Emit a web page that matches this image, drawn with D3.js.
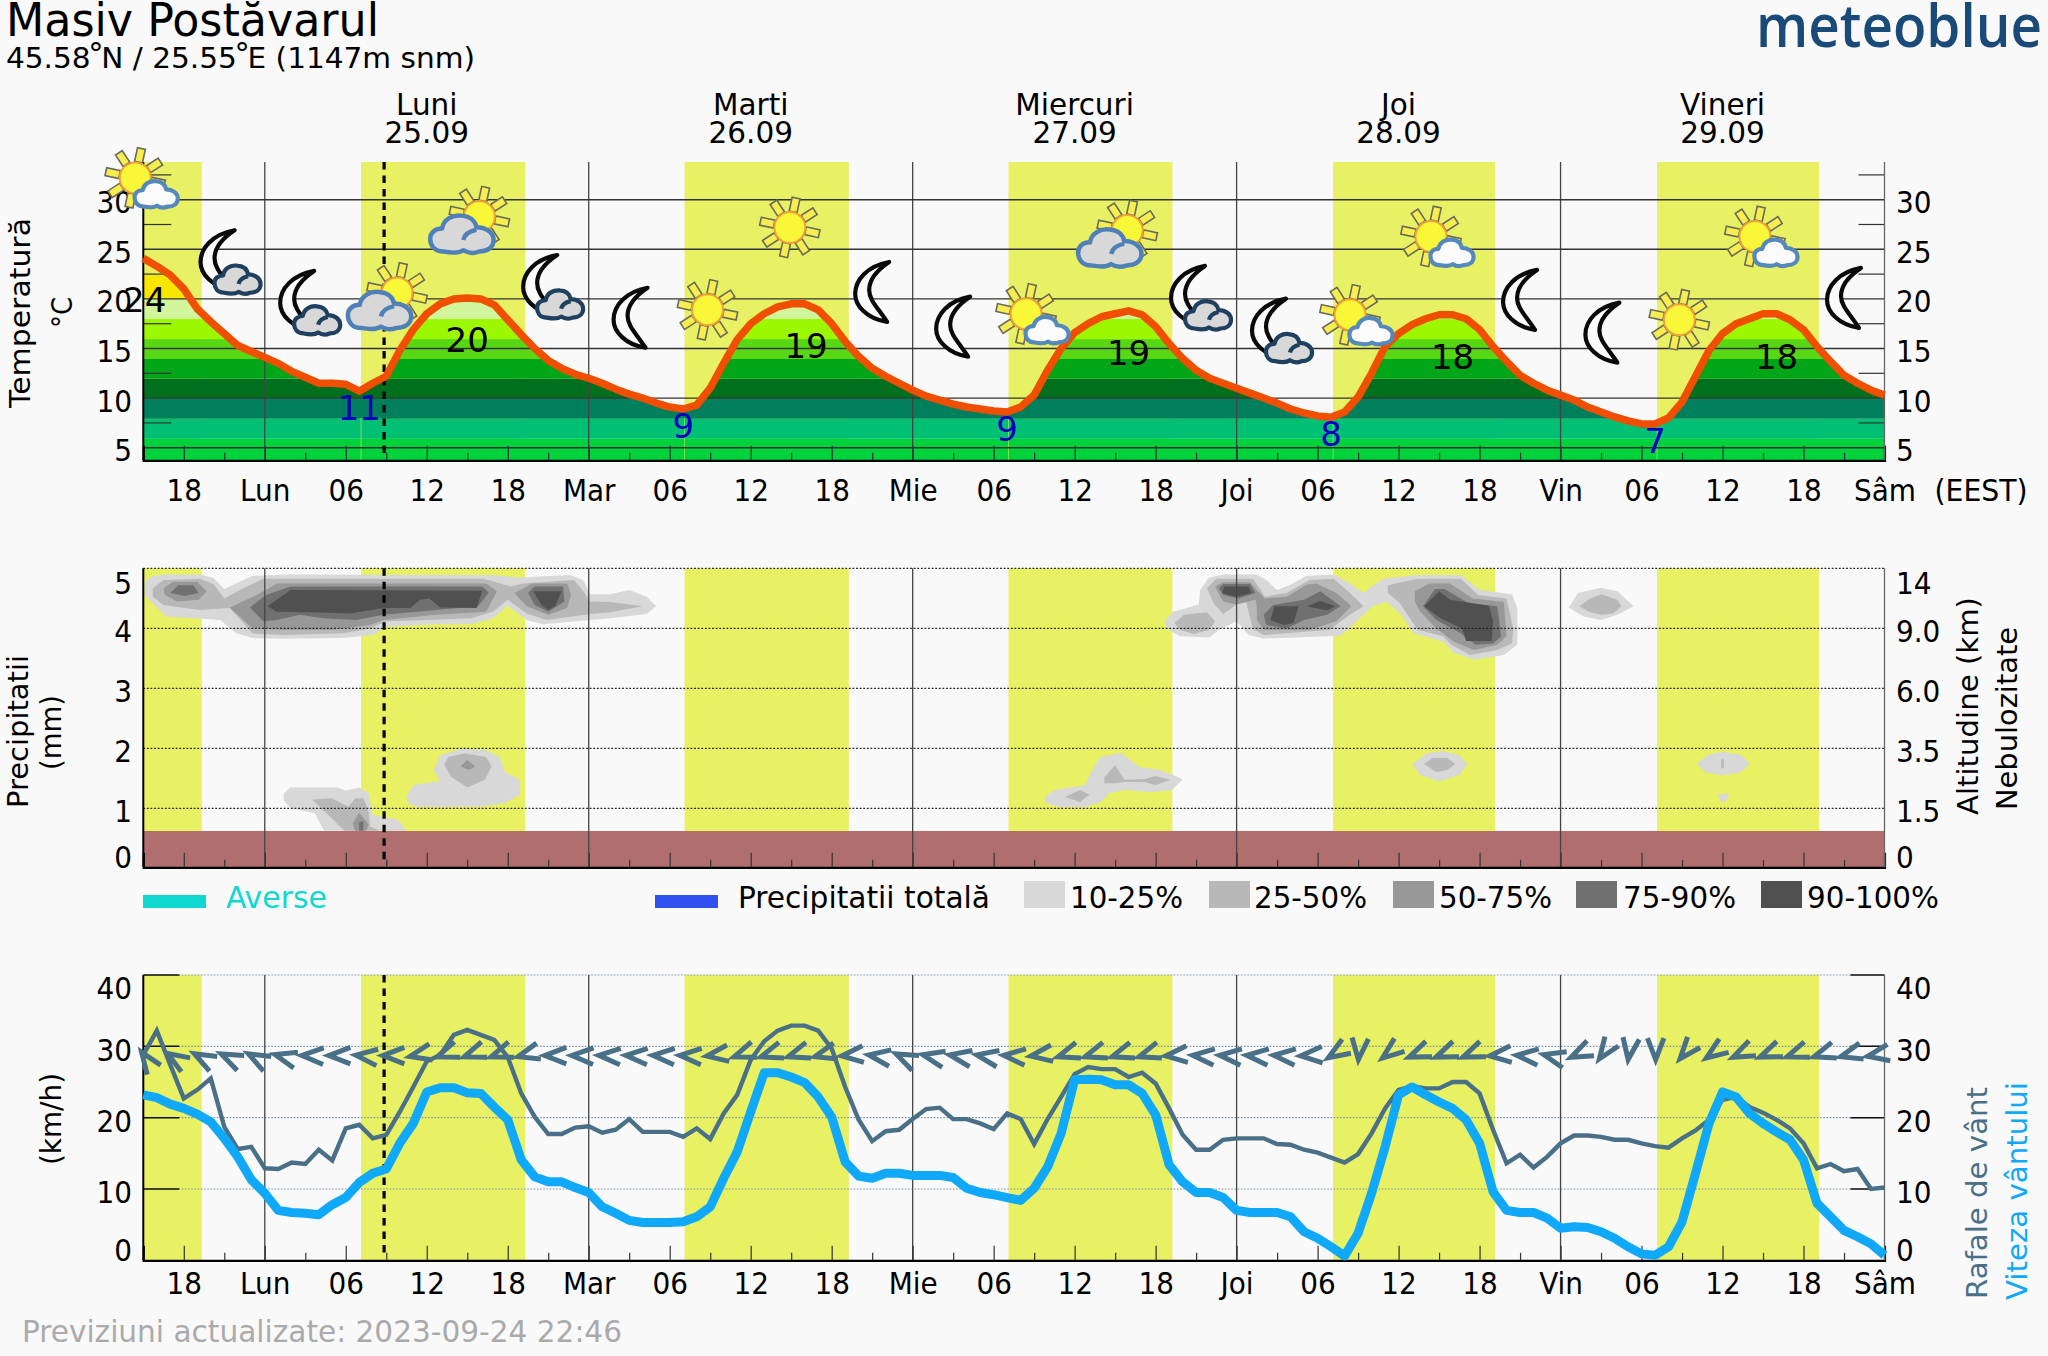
<!DOCTYPE html>
<html><head><meta charset="utf-8">
<script src="https://cdn.jsdelivr.net/npm/d3@7"></script>
<style>html,body{margin:0;padding:0;background:#f9f9f9}svg{display:block}text{font-family:"DejaVu Sans",sans-serif}.cond,.cond text{font-family:"DejaVu Sans Condensed","DejaVu Sans",sans-serif;font-stretch:condensed}</style>
</head><body><svg id="c" width="2048" height="1356"></svg>
<script>
const temperature=[24.1,23.3,22.4,21,19,17.7,16.5,15.3,14.7,14.1,13.5,12.7,12.1,11.5,11.5,11.4,10.7,11.5,12.2,14.8,16.9,18.5,19.5,20,20.1,20,19.4,17.9,16.4,15,13.8,13,12.4,12,11.5,10.9,10.4,10,9.5,9.1,8.9,9.3,11,13.5,15.9,17.5,18.5,19.2,19.5,19.5,18.9,17.5,15.7,14.2,13,12.2,11.5,10.8,10.2,9.8,9.4,9.1,8.9,8.7,8.6,9.1,10.3,12.8,15,16.6,17.5,18.2,18.5,18.8,18.4,17.2,15.5,14,12.8,12,11.5,11,10.5,10,9.5,8.9,8.5,8.2,8.06,8.6,10.1,12.5,15.2,16.5,17.4,18,18.4,18.4,18,16.9,15.2,13.7,12.3,11.5,10.8,10.3,9.8,9.1,8.6,8.1,7.7,7.4,7.4,8,9.6,12.2,14.8,16.5,17.5,18,18.5,18.5,17.9,16.9,15.2,13.7,12.3,11.5,10.8,10.3];
const gusts=[28.8,32.2,27.4,22.7,23.9,25.5,18.7,15.6,15.9,12.9,12.8,13.7,13.5,15.5,14,18.5,19,17.1,17.6,20.8,24.3,27.9,28.8,31.6,32.3,31.6,30.9,28.5,23.4,20.1,17.7,17.7,18.6,18.8,17.9,18.3,19.8,18,18,18,17.3,18.5,17,20.6,23.2,28.1,30.7,32.2,32.9,32.9,32.2,29.7,24.3,19.7,16.7,18.1,18.3,19.8,21.2,21.4,19.8,19.8,19.2,18.4,20.6,19.8,16.3,19.8,22.9,26.1,27.1,26.8,26.8,25.7,26.3,24.8,21.3,17.6,15.5,15.5,16.9,17.1,17.1,17.1,16.3,16.2,15.5,15.1,14.4,13.7,14.9,17.8,21.3,23.9,24.4,24.1,24.1,25,25,23.4,18.3,13.6,14.8,13,14.5,16.4,17.5,17.5,17.3,16.9,16.9,16.4,16,15.8,17.1,18.2,19.7,22.5,22.9,21.5,20.7,19.7,18.5,16.4,12.9,13.5,12.5,12.8,10,10.2];
const windSpeed=[23.2,22.8,21.9,21.3,20.5,19.4,17.1,14.5,11.3,9.4,7,6.7,6.6,6.4,7.8,8.8,10.9,12.2,12.8,16.4,19.2,23.6,24.2,24.2,23.5,23.4,21.5,19.7,14.1,11.7,11,11,10.2,9.5,7.5,6.6,5.6,5.3,5.3,5.3,5.4,6.1,7.5,11.5,15.2,20.8,26.3,26.3,25.7,24.9,22.9,20.1,13.8,11.8,11.5,12.2,12.2,11.9,11.9,11.9,11.6,10.1,9.5,9.2,8.8,8.4,10.1,13.1,17.8,25.3,25.4,25.3,24.6,24.6,23.4,20.4,13.4,11,9.5,9.5,8.8,7,6.7,6.7,6.7,6.1,4,3.1,1.9,0.6,3.8,9.4,15.9,23.2,24.3,23.2,22.2,21.3,19.7,16.4,9.6,7,6.7,6.7,5.9,4.5,4.7,4.6,4,3.1,1.9,0.9,0.7,1.9,5.4,12.2,19.2,23.6,22.9,20.6,19.2,18,16.9,14.1,8,6.1,4.2,3.3,2.3,0.7];
const windRotation=[55,32,28,25,28,15,2,0,6,0,-12,-20,-20,-20,-15,0,2,3,3,3,3,-8,-20,-18,-18,-15,-5,8,25,12,10,10,5,-8,-18,-18,-18,-18,-5,5,5,5,5,-3,-32,-85,-38,-22,-22,-22,-5,5,14,-25,-55,-82,-90,-50,-35,-25,-22,-20,-18,-15,-10];
const daySpans=[[0,4.33],[16.13,28.3],[40.1,52.27],[64.1,76.24],[88.15,100.15],[112.15,124.15]];
const dayLines=[9,33,57,81,105];
const nowHour=17.84;
const dayNames=["Luni","Marti","Miercuri","Joi","Vineri"];
const dayDates=["25.09","26.09","27.09","28.09","29.09"];
const dayHours=[21,45,69,93,117];
const axisLabels=["18","Lun","06","12","18","Mar","06","12","18","Mie","06","12","18","Joi","06","12","18","Vin","06","12","18","Sâm"];
const tempTicks=[30,25,20,15,10,5];
const tempMinor=[32.5,27.5,22.5,17.5,12.5,7.5];
const precipTicks=[0,1,2,3,4,5];
const altitudeTicks=["0","1.5","3.5","6.0","9.0","14"];
const windTicks=[0,10,20,30,40];
const tempBands=[[3,5.9,"#00d23c"],[5.9,7.92,"#00c074"],[7.92,9.97,"#007f5c"],[9.97,11.96,"#00701e"],[11.96,13.94,"#00a518"],[13.94,15.95,"#58d814"],[15.95,17.97,"#9cf800"],[17.97,20,"#d0f59a"],[20,22.4,"#f8e600"],[22.4,34,"#e8ee60"]];
const maxLabels=[[0.1,24.1,"24"],[24,20.1,"20"],[49.1,19.5,"19"],[73,18.8,"19"],[97,18.4,"18"],[121,18.4,"18"]];
const minLabels=[[16,10.7,"11"],[40,8.9,"9"],[64,8.6,"9"],[88,8.06,"8"],[112,7.4,"7"]];
const icons=[["sunSmall",-0.6,32.2],["moonCloud",5.5,23.9],["moonCloud",11.4,19.8],["sunBig",18.8,20.6],["sunBig",24.9,28.3],["moonCloud",29.4,21.4],["moon",36.1,18.1],["sun",41.8,18.9],["sun",47.9,27.2],["moon",54,20.7],["moon",60,17.2],["sunSmall",65.4,18.5],["sunBig",72.9,26.9],["moonCloud",77.4,20.3],["moonCloud",83.4,17],["sunSmall",89.4,18.4],["sunSmall",95.4,26.3],["moon",102,19.9],["moon",108.1,16.6],["sun",113.8,17.9],["sunSmall",119.4,26.3],["moon",126,20.1]];
const cloudColors=["#d8d8d8","#b8b8b8","#989898","#707070","#505050"];
const cloudLabels=["10-25%","25-50%","50-75%","75-90%","90-100%"];
// cloud contours: [level, [[hour, axis position], ...]]
const cloudsA=[
[0,[[0.1,4.76],[0.6,4.85],[1.5,4.88],[4.2,4.88],[5.2,4.82],[6,4.64],[8.1,4.86],[10.6,4.88],[25.9,4.87],[27.9,4.83],[31.6,4.87],[32.6,4.79],[33.1,4.55],[34.6,4.55],[36,4.62],[37.3,4.51],[38,4.35],[37.3,4.22],[34.6,4.15],[33.1,4.12],[29.6,4.05],[28.4,4.12],[27,4.36],[25.9,4.15],[24.3,4.05],[21.7,4.05],[18,4.01],[17,3.87],[14.8,3.82],[10.4,3.81],[8.1,3.82],[6.9,3.9],[5.7,4.12],[3.7,4.15],[1.7,4.18],[0.9,4.35],[0.1,4.54]]],
[1,[[.7,4.65],[1.5,4.79],[4.2,4.81],[5.2,4.72],[6,4.48],[7.4,4.65],[8.9,4.81],[25.2,4.81],[27.2,4.68],[28.1,4.73],[31.9,4.79],[32.6,4.6],[33.1,4.43],[34.6,4.42],[37,4.35],[34.6,4.25],[33.1,4.22],[29.9,4.12],[28.4,4.23],[27,4.46],[25.9,4.26],[24.3,4.15],[21.2,4.12],[18,4.1],[16.8,3.98],[14.8,3.9],[10.4,3.87],[8.1,3.9],[6.4,4.32],[4.2,4.29],[1.5,4.37],[.7,4.51]]],
[2,[[1.5,4.65],[2.2,4.76],[4,4.76],[4.7,4.6],[4.1,4.46],[2.5,4.43],[1.6,4.54]]],
[2,[[6.4,4.33],[8.4,4.54],[9.9,4.73],[25.4,4.73],[26.2,4.6],[25.4,4.26],[21.7,4.21],[17.8,4.12],[16.8,4.04],[14.1,3.96],[10.4,3.96],[8.1,3.98]]],
[2,[[27.5,4.57],[28.8,4.73],[31.4,4.73],[31.7,4.54],[31.4,4.32],[30,4.21],[28.4,4.35]]],
[3,[[2,4.57],[2.6,4.7],[3.7,4.7],[4.1,4.57],[3.1,4.52]]],
[3,[[7.9,4.33],[9.1,4.54],[10.9,4.68],[25.1,4.68],[25.6,4.58],[24.8,4.35],[21.7,4.29],[17.8,4.21],[15.8,4.12],[13.3,4.15],[11.6,4.21],[9.9,4.12],[8.9,4.1]]],
[3,[[28.5,4.57],[29,4.68],[31.1,4.68],[31.2,4.43],[30,4.26],[29,4.37]]],
[4,[[9.2,4.35],[10.9,4.62],[25.1,4.61],[24.7,4.32],[22,4.33],[21.2,4.48],[20.5,4.46],[19.8,4.32],[17.8,4.32],[15.3,4.23],[12.3,4.25],[9.9,4.26]]],
[4,[[28.9,4.6],[31,4.6],[30.5,4.35],[30,4.29],[29.5,4.37]]]];
const cloudsB=[
[0,[[75.7,4.12],[76.3,4.26],[78.2,4.38],[78.3,4.62],[78.9,4.82],[80,4.88],[82.5,4.88],[83.2,4.79],[84,4.62],[85,4.71],[86.2,4.86],[88.2,4.88],[89.4,4.73],[90.4,4.57],[91,4.68],[91.9,4.81],[94.4,4.87],[97.6,4.87],[99,4.62],[101.4,4.55],[101.8,4.32],[101.8,3.71],[100.8,3.54],[98.6,3.46],[97.1,3.57],[96.3,3.76],[94.1,3.9],[93.2,4.21],[92.1,4.43],[91.1,4.35],[90.4,4.21],[88.7,3.86],[83,3.81],[81.9,3.87],[81,4.1],[79.7,3.96],[79,3.83],[76.8,3.85],[75.8,3.98]]],
[1,[[76.4,4.07],[77.1,4.21],[78.8,4.25],[79.4,4.1],[79,3.96],[77.8,3.89],[76.8,3.96]]],
[1,[[78.8,4.65],[79.5,4.81],[82.2,4.81],[82.7,4.65],[83.1,4.51],[84.7,4.57],[86.4,4.79],[88.2,4.81],[89.4,4.57],[90.4,4.35],[89.4,4.21],[87.9,3.96],[83,3.87],[82.2,3.98],[81.7,4.43],[81,4.38],[80,4.22],[79.3,4.4]]],
[1,[[92.2,4.7],[94.4,4.81],[97.6,4.81],[98.9,4.54],[101,4.48],[101.5,3.98],[101.4,3.73],[100.3,3.62],[98.3,3.54],[96.9,3.71],[96.3,3.85],[94.4,3.96],[93.1,4.4],[92.2,4.57]]],
[2,[[79.4,4.68],[80,4.75],[82,4.75],[82.7,4.57],[83.1,4.48],[84.7,4.51],[86.2,4.71],[86.9,4.73],[88.4,4.57],[89.5,4.35],[88.4,4.1],[86.4,3.96],[83,3.96],[82.5,4.12],[82.5,4.32],[82.4,4.46],[81,4.38],[80,4.43]]],
[2,[[94.2,4.6],[95.3,4.73],[96.8,4.73],[98.5,4.48],[100.8,4.42],[101,3.85],[100.3,3.71],[98.6,3.62],[97.1,3.76],[95.8,3.98],[94.6,4.26],[94.2,4.43]]],
[3,[[79.7,4.65],[80,4.72],[82,4.72],[82.4,4.57],[81.1,4.48],[80,4.54]]],
[3,[[83,4.21],[83.7,4.37],[86,4.46],[87.2,4.6],[88.7,4.35],[87.7,4.21],[86,4.12],[84.7,3.98],[83.2,4.04]]],
[3,[[94.8,4.35],[95.7,4.64],[96.4,4.64],[98.2,4.4],[100.3,4.35],[100.6,3.85],[100,3.73],[98.7,3.71],[97.6,3.9],[95.8,4.12]]],
[4,[[79.9,4.57],[80.1,4.68],[81.9,4.68],[82.1,4.57],[81,4.51]]],
[4,[[83.5,4.12],[83.8,4.35],[85.6,4.35],[85.2,4.07],[84.5,4.04]]],
[4,[[86.2,4.35],[87.2,4.44],[88.3,4.35],[87.7,4.28]]],
[4,[[94.9,4.35],[96,4.6],[96.8,4.46],[99.7,4.36],[100,4.1],[99.9,3.77],[98,3.77],[97.7,3.98],[96.1,4.15]]],
[0,[[105.6,4.33],[106.3,4.57],[108,4.66],[109.2,4.6],[110.4,4.35],[109.2,4.21],[108,4.12],[106.7,4.18]]],
[1,[[106.4,4.35],[107.2,4.48],[108,4.55],[109.2,4.46],[109.5,4.35],[108.9,4.23],[108,4.21],[107.1,4.26]]]];
const cloudsLow=[
[0,[[10.4,1.23],[10.9,1.33],[14.4,1.33],[15,1.28],[16,1.33],[16.7,1.23],[17,.87],[18.8,.8],[19.5,.61],[13.4,.61],[12.7,.9],[10.9,.99],[10.4,1.12]]],
[1,[[12.5,1.13],[14,1.15],[15.2,1.01],[15.7,1.15],[16.3,1.15],[16.7,.93],[16.8,.68],[17.5,.61],[14.9,.61],[13.7,.87]]],
[2,[[15.5,.73],[16,.91],[16.7,.71],[16.5,.61],[15.7,.61]]],
[3,[[16,.61],[16,.76],[16.3,.76],[16.3,.61]]],
[0,[[19.5,1.18],[20,1.37],[22,1.44],[21.5,1.62],[22,1.87],[23.5,1.97],[25.3,1.96],[26.4,1.84],[26.8,1.59],[27.9,1.46],[27.9,1.21],[26.8,1.07],[25.1,1.01],[20.3,1],[19.6,1.07]]],
[1,[[22.3,1.71],[22.6,1.84],[23.8,1.9],[25.4,1.84],[25.8,1.68],[25.3,1.46],[24,1.33],[22.8,1.51]]],
[2,[[23.5,1.68],[24,1.79],[24.6,1.68],[24.1,1.62]]],
[0,[[66.8,1.17],[67.5,1.29],[69.8,1.37],[70.1,1.54],[70.9,1.84],[72.4,1.91],[73.8,1.67],[75.3,1.62],[76.7,1.5],[77,1.46],[76.2,1.29],[74.7,1.25],[72.7,1.29],[71.6,1.24],[70.9,1.09],[69.8,1],[67.9,1],[66.8,1.07]]],
[1,[[71.2,1.5],[72,1.7],[72.7,1.46],[74.2,1.47],[75,1.52],[76.1,1.46],[75,1.37],[74.2,1.42],[72.7,1.42],[72,1.4],[71.2,1.4]]],
[1,[[68.3,1.17],[69.4,1.29],[70.1,1.21],[69.4,1.09]]],
[0,[[94,1.72],[95.1,1.9],[96.2,1.94],[97.5,1.87],[98.1,1.72],[97.5,1.54],[96,1.43],[94.6,1.54]]],
[1,[[94.9,1.72],[95.5,1.82],[96.6,1.82],[97.2,1.72],[96.6,1.62],[95.8,1.59]]],
[0,[[115.1,1.73],[115.9,1.87],[117,1.93],[118.4,1.87],[119,1.73],[118.4,1.59],[117,1.53],[115.7,1.59]]],
[1,[[116.9,1.8],[117.1,1.8],[117.1,1.65],[116.9,1.65]]],
[0,[[116.6,1.22],[117.5,1.22],[117.2,1.09],[116.9,1.09]]]];

const svg=d3.select("#c");
const BG="#f9f9f9",DAY="#e8f064",GUST="#4a7088",SPEED="#10a8f8";
svg.append("rect").attr("width",2048).attr("height",1356).attr("fill",BG);
const x=d3.scaleLinear().domain([0,129]).range([143.3,1884.5]);
const yT=d3.scaleLinear().domain([30,5]).range([199.7,447.7]);
const yP=d3.scaleLinear().domain([0,5]).range([867.3,567.3]);
const yW=d3.scaleLinear().domain([0,40]).range([1260.3,975]);
const tTop=162,tBot=460.3,pTop=568.3,pBot=867.3,wTop=975,wBot=1260.3,terrainTop=831;
const L=x(0),R=x(129);
const CF='"DejaVu Sans Condensed","DejaVu Sans",sans-serif';
function txt(s,px,py,size,o={}){
  const t=svg.append("text").attr("x",px).attr("y",py).attr("font-size",size).attr("fill",o.fill||"#000").attr("text-anchor",o.anchor||"start").text(s);
  if(o.len)t.attr("textLength",o.len).attr("lengthAdjust","spacingAndGlyphs");
  if(o.weight)t.attr("font-weight",o.weight);
  if(o.family)t.style("font-family",o.family);
  if(o.cond)t.attr("class","cond");
  return t;
}
function vtxt(s,cx,y0,y1,size,fill){
  const c=(y0+y1)/2;
  return svg.append("text").attr("transform",`translate(${cx},${c}) rotate(-90)`).attr("text-anchor","middle").attr("dy",size*0.36).attr("font-size",size).attr("fill",fill||"#000").attr("textLength",y1-y0).attr("lengthAdjust","spacingAndGlyphs").text(s);
}
function days(top,bot){
  svg.append("g").selectAll("rect").data(daySpans).join("rect").attr("x",d=>x(d[0])).attr("width",d=>x(d[1])-x(d[0])).attr("y",top).attr("height",bot-top).attr("fill",DAY);
}
function dayGrid(top,bot){
  svg.append("g").selectAll("line").data(dayLines).join("line").attr("x1",d=>x(d)).attr("x2",d=>x(d)).attr("y1",top).attr("y2",bot).attr("stroke","#444").attr("stroke-width",1.3);
}
function xAxis(bot,labels){
  const major=d3.range(3,130,6), minor=d3.range(6,129,6);
  const a=svg.append("g").attr("class","cond").attr("transform",`translate(0,${bot})`).call(d3.axisBottom(x).tickValues(major).tickSizeOuter(0).tickSize(-14.5).tickFormat((d,i)=>labels?axisLabels[i]:""));
  a.select(".domain").attr("stroke","#000").attr("stroke-width",2.2);
  a.selectAll(".tick line").attr("stroke","#333").attr("stroke-width",1.2);
  a.selectAll(".tick text").attr("y",0).attr("dy",0).attr("transform",`translate(0,${labels?labels:0})`).attr("font-size",31).attr("fill","#000").style("font-family",CF);
  const b=svg.append("g").attr("transform",`translate(0,${bot})`).call(d3.axisBottom(x).tickValues(minor).tickSize(-7.5).tickFormat(""));
  b.select(".domain").remove();
  b.selectAll(".tick line").attr("stroke","#333").attr("stroke-width",1.2);
}
function frame(top,bot){
  svg.append("line").attr("x1",L).attr("x2",L).attr("y1",top).attr("y2",bot).attr("stroke","#000").attr("stroke-width",2);
  svg.append("line").attr("x1",R).attr("x2",R).attr("y1",top).attr("y2",bot).attr("stroke","#666").attr("stroke-width",1.3);
}
function nowLine(top,bot){
  svg.append("line").attr("x1",x(nowHour)).attr("x2",x(nowHour)).attr("y1",top).attr("y2",bot).attr("stroke","#000").attr("stroke-width",3.2).attr("stroke-dasharray","7.5,6");
}
function yLabels(scale,vals,offs,side){
  const ax=side=="l"?d3.axisLeft(scale):d3.axisRight(scale);
  const g=svg.append("g").attr("class","cond").attr("transform",`translate(${side=="l"?132:1896},0)`).call(ax.tickValues(vals).tickSize(0).tickPadding(0).tickFormat(d=>d));
  g.select(".domain").remove();
  g.selectAll(".tick text").attr("dy",0).attr("y",d=>offs(d)).attr("font-size",31).attr("fill","#000").style("font-family",CF);
  return g;
}

/* ---------- temperature panel ---------- */
days(tTop,tBot);
svg.append("clipPath").attr("id","under").append("path").attr("d",d3.area().x((d,i)=>x(i)).y0(tBot).y1(d=>yT(d))(temperature));
svg.append("g").attr("clip-path","url(#under)").selectAll("rect").data(tempBands).join("rect").attr("x",L).attr("width",R-L).attr("y",d=>yT(d[1])).attr("height",d=>yT(d[0])-yT(d[1])).attr("fill",d=>d[2]);
svg.append("g").selectAll("line").data(daySpans.slice(1)).join("line").attr("x1",d=>x(d[0])).attr("x2",d=>x(d[0])).attr("y1",yT(8)).attr("y2",tBot).attr("stroke",DAY).attr("stroke-opacity",.55);
dayGrid(tTop,tBot);
svg.append("g").selectAll("line").data(tempTicks).join("line").attr("x1",L).attr("x2",R).attr("y1",d=>yT(d)).attr("y2",d=>yT(d)).attr("stroke","#333").attr("stroke-width",1.4);
svg.append("g").selectAll("line").data(tempMinor).join("line").attr("x1",L).attr("x2",L+28).attr("y1",d=>yT(d)).attr("y2",d=>yT(d)).attr("stroke","#333").attr("stroke-width",1.2);
svg.append("g").selectAll("line").data(tempMinor).join("line").attr("x1",R-26).attr("x2",R).attr("y1",d=>yT(d)).attr("y2",d=>yT(d)).attr("stroke","#333").attr("stroke-width",1.2);
xAxis(tBot,41);
frame(tTop,tBot);
nowLine(tTop,tBot-6);
yLabels(yT,tempTicks,()=>13,"l");
yLabels(yT,tempTicks,()=>13,"r");
svg.append("path").attr("d",d3.line().x((d,i)=>x(i)).y(d=>yT(d))(temperature)).attr("fill","none").attr("stroke","#f04e00").attr("stroke-width",7.5).attr("stroke-linejoin","round");

/* icons */
const cloudPath="M22,60C8,60 2,50 2,40C2,30 10,24 20,24C22,10 36,2 50,4C62,5 70,12 72,22C86,22 98,30 98,42C98,54 88,60 76,60C66,64 58,62 52,58C44,64 32,62 22,60Z";
const cloudInner="M52,42C54,34 62,28 72,26";
const moonPath="M17,-30C-5,-26 -17,-12 -17,2C-17,14 -5,27 15,30C5,15 -3,8 -3,-2C-3,-12 5,-22 17,-30Z";
function drawCloud(g,cx,cy,w,h,fill,stroke,sw,inner){
  const c=g.append("g").attr("transform",`translate(${cx-w/2},${cy-h/2}) scale(${w/100},${h/64})`);
  c.append("path").attr("d",cloudPath).attr("fill",fill).attr("stroke",stroke).attr("stroke-width",sw).attr("vector-effect","non-scaling-stroke").attr("stroke-linejoin","round");
  if(inner)c.append("path").attr("d",cloudInner).attr("fill","none").attr("stroke",stroke).attr("stroke-width",sw).attr("vector-effect","non-scaling-stroke");
}
function drawSun(g){
  d3.range(8).forEach(i=>{
    g.append("rect").attr("x",-4).attr("y",-30).attr("width",8).attr("height",14).attr("transform",`rotate(${i*45+12})`).attr("fill","#f6ee50").attr("stroke","#6a6a5a").attr("stroke-width",1.6);
  });
  g.append("circle").attr("r",15.5).attr("fill","#f8f838").attr("stroke","#f0a038").attr("stroke-width",2);
}
function drawMoon(g){g.append("path").attr("d",moonPath).attr("fill","#fbfbfb").attr("stroke","#0a0a0a").attr("stroke-width",4.2).attr("stroke-linejoin","round");}
const ig=svg.append("g").selectAll("g").data(icons).join("g").attr("transform",d=>`translate(${x(d[1])},${yT(d[2])})`);
ig.each(function(d){
  const g=d3.select(this);
  if(d[0].startsWith("sun"))drawSun(g);
  if(d[0]=="sunSmall")drawCloud(g,21,16,45,29,"#fbfbfb","#5588bb",4.2,false);
  if(d[0]=="sunBig")drawCloud(g,-17.5,17,66,41,"#d8d8d8","#5080b8",4.5,true);
  if(d[0].startsWith("moon"))drawMoon(g);
  if(d[0]=="moonCloud")drawCloud(g,20,19,48,31,"#d8d8d8","#204060",4.2,true);
});
/* value labels */
svg.append("g").selectAll("text").data(maxLabels).join("text").attr("x",d=>x(d[0])).attr("y",d=>yT(d[1])+54).attr("text-anchor","middle").attr("font-size",34).attr("fill","#000").text(d=>d[2]);
svg.append("g").selectAll("text").data(minLabels).join("text").attr("x",d=>x(d[0])).attr("y",d=>yT(d[1])+29).attr("text-anchor","middle").attr("font-size",34).attr("fill","#0000c0").text(d=>d[2]);

/* ---------- clouds / precipitation panel ---------- */
days(pTop,pBot);
const poly=d3.line().x(d=>x(d[0])).y(d=>yP(d[1])).curve(d3.curveLinearClosed);
const allClouds=[...cloudsA,...cloudsB,...cloudsLow];
svg.append("g").selectAll("path").data(allClouds).join("path").attr("d",d=>poly(d[1])).attr("fill",d=>cloudColors[d[0]]);
svg.append("rect").attr("x",L).attr("width",R-L).attr("y",terrainTop).attr("height",pBot-terrainTop).attr("fill","#b06e6e");
svg.append("g").selectAll("line").data([1,2,3,4,5]).join("line").attr("x1",L).attr("x2",R).attr("y1",d=>yP(d)+1).attr("y2",d=>yP(d)+1).attr("stroke","#222").attr("stroke-width",1.2).attr("stroke-dasharray","1.8,1.8");
dayGrid(pTop,pBot);
xAxis(pBot,0);
frame(pTop,pBot);
nowLine(pTop,pBot-6);
const pOff=d=>d==5?26:d==0?0:14;
yLabels(yP,precipTicks,pOff,"l");
const rg=yLabels(yP,precipTicks,pOff,"r");
rg.selectAll(".tick text").text((d,i)=>altitudeTicks[i]);

/* legend */
const legY=908;
svg.append("rect").attr("x",143).attr("y",895).attr("width",63).attr("height",13).attr("fill","#10d8d0");
txt("Averse",226,legY,31,{fill:"#10d8d0",len:101,cond:1});
svg.append("rect").attr("x",655).attr("y",895).attr("width",63).attr("height",13).attr("fill","#3050f0");
txt("Precipitatii totală",738,legY,31,{len:252,cond:1});
const legendX=[1024,1209,1393,1576,1761],legendT=[1070,1254,1439,1623,1807],legendW=[113,113,113,113,132];
cloudLabels.forEach((s,i)=>{
  svg.append("rect").attr("x",legendX[i]).attr("y",881).attr("width",41).attr("height",27).attr("fill",cloudColors[i]);
  txt(s,legendT[i],legY,31,{len:legendW[i],cond:1});
});

/* ---------- wind panel ---------- */
days(wTop,wBot);
svg.append("g").selectAll("line").data([10,20,30,40]).join("line").attr("x1",L).attr("x2",R).attr("y1",d=>yW(d)).attr("y2",d=>yW(d)).attr("stroke","#7f93a6").attr("stroke-width",1.1).attr("stroke-dasharray","1.6,1.6");
svg.append("g").selectAll("line").data([10,20,30,40]).join("line").attr("x1",L).attr("x2",L+36).attr("y1",d=>yW(d)).attr("y2",d=>yW(d)).attr("stroke","#111").attr("stroke-width",1.5);
svg.append("g").selectAll("line").data([10,20,30,40]).join("line").attr("x1",R-34).attr("x2",R).attr("y1",d=>yW(d)).attr("y2",d=>yW(d)).attr("stroke","#111").attr("stroke-width",1.5);
dayGrid(wTop,wBot);
xAxis(wBot,34);
frame(wTop,wBot);
nowLine(wTop,wBot-4);
const wOff=d=>d==40?23:d==0?0:14;
yLabels(yW,windTicks,wOff,"l");
yLabels(yW,windTicks,wOff,"r");
svg.append("path").attr("d",d3.line().x((d,i)=>x(i)).y(d=>yW(d))(gusts)).attr("fill","none").attr("stroke",GUST).attr("stroke-width",4.4).attr("stroke-linejoin","miter");
const a=21*Math.PI/180,armL=23;
const chev=`M${-4+armL*Math.cos(a)},${-armL*Math.sin(a)}L-4,0L${-4+armL*Math.cos(a)},${armL*Math.sin(a)}`;
svg.append("g").selectAll("path").data(windRotation).join("path").attr("d",chev).attr("transform",(d,i)=>`translate(${x(-0.25+2*i)+4},${yW(28.7)}) rotate(${d})`).attr("fill","none").attr("stroke",GUST).attr("stroke-width",5).attr("stroke-linejoin","miter");
svg.append("path").attr("d",d3.line().x((d,i)=>x(i)).y(d=>yW(d))(windSpeed)).attr("fill","none").attr("stroke",SPEED).attr("stroke-width",9).attr("stroke-linejoin","round").attr("stroke-linecap","butt");

/* ---------- titles ---------- */
txt("Masiv Postăvarul",6,36,46,{len:373,cond:1});
const sub=txt("",6,68,29,{cond:1});
sub.append("tspan").text("45.58");
sub.append("tspan").attr("font-size",30).attr("dy",-4).attr("dx",-2).text("°");
sub.append("tspan").attr("dy",4).attr("dx",-2).text("N / 25.55");
sub.append("tspan").attr("font-size",30).attr("dy",-4).attr("dx",-2).text("°");
sub.append("tspan").attr("dy",4).attr("dx",-2).text("E (1147m snm)");
sub.attr("textLength",469).attr("lengthAdjust","spacingAndGlyphs");
txt("meteoblue",1756,47,60,{fill:"#1a4a78",len:286,weight:600,family:'"Open Sans"'});
dayNames.forEach((s,i)=>{txt(s,x(dayHours[i]),115,29.5,{anchor:"middle"});txt(dayDates[i],x(dayHours[i]),143,29.5,{anchor:"middle"});});
txt("(EEST)",1934.5,501,31,{len:93,cond:1});
vtxt("Temperatură",20,218,408,28);
vtxt("°C",62,297,328,28);
vtxt("Precipitatii",18,655,808,28);
vtxt("(mm)",51,695,770,28);
vtxt("Altitudine (km)",1968,597,815,28);
vtxt("Nebulozitate",2007,627,810,28);
vtxt("(km/h)",51,1073,1165,28);
vtxt("Rafale de vânt",1977,1087,1299,28,GUST);
vtxt("Viteza vântului",2017,1082,1300,28,SPEED);
txt("Previziuni actualizate: 2023-09-24 22:46",22,1342,31,{fill:"#aaaaaa",len:600,cond:1});
</script></body></html>
